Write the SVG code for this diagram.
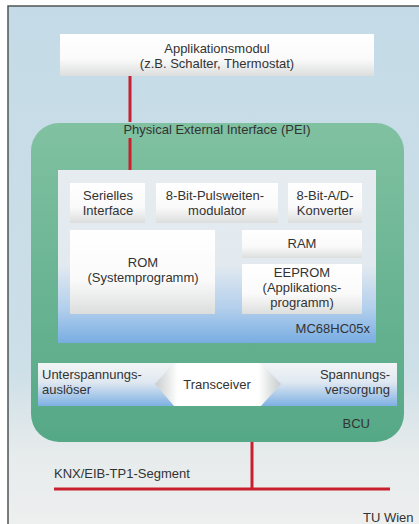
<svg xmlns="http://www.w3.org/2000/svg" width="419" height="524" viewBox="0 0 419 524">
<defs>
<linearGradient id="bg" x1="0" y1="0" x2="0" y2="1">
<stop offset="0" stop-color="#c4dbe7"/>
<stop offset="0.7" stop-color="#cddfe7"/>
<stop offset="0.86" stop-color="#e6ebec"/>
<stop offset="1" stop-color="#eeefef"/>
</linearGradient>
<linearGradient id="green" x1="0" y1="0" x2="0" y2="1">
<stop offset="0" stop-color="#80c1a1"/>
<stop offset="1" stop-color="#55a886"/>
</linearGradient>
<linearGradient id="mcu" x1="0" y1="0" x2="0" y2="1">
<stop offset="0" stop-color="#e6ecef"/>
<stop offset="0.55" stop-color="#e2eaf0"/>
<stop offset="0.8" stop-color="#b3cfec"/>
<stop offset="1" stop-color="#78ade2"/>
</linearGradient>
<linearGradient id="band" x1="0" y1="0" x2="0" y2="1">
<stop offset="0" stop-color="#f2f5f6"/>
<stop offset="0.45" stop-color="#dfe8f1"/>
<stop offset="1" stop-color="#7eb0e3"/>
</linearGradient>
<linearGradient id="box" x1="0" y1="0" x2="0" y2="1">
<stop offset="0" stop-color="#ffffff"/>
<stop offset="0.6" stop-color="#fafafa"/>
<stop offset="1" stop-color="#dcdedd"/>
</linearGradient>
<linearGradient id="hex" x1="0" y1="0" x2="1" y2="0">
<stop offset="0" stop-color="#c8cccc"/>
<stop offset="0.18" stop-color="#ffffff"/>
<stop offset="0.82" stop-color="#ffffff"/>
<stop offset="1" stop-color="#c8cccc"/>
</linearGradient>
</defs>
<style>
text{font-family:"Liberation Sans",Arial,sans-serif;font-size:13px;fill:#333333}
.c{text-anchor:middle}
.r{text-anchor:end}
.red{stroke:#c8202e;stroke-width:3;fill:none}
.box{fill:url(#box)}
</style>
<rect x="0" y="0" width="419" height="524" fill="#ffffff"/>
<rect id="frame" x="8" y="6" width="411" height="518" fill="url(#bg)"/>
<path d="M8,524 V6 H419" fill="none" stroke="#4d5656" stroke-width="1.5"/>

<g id="applikationsmodul">
<rect x="60" y="34" width="314" height="42" class="box"/>
<text x="217" y="53" class="c" font-size="13.5">Applikationsmodul</text>
<text x="217" y="68" class="c" font-size="13.5">(z.B. Schalter, Thermostat)</text>
</g>

<g id="bcu">
<rect x="31" y="123" width="373" height="319" rx="28" ry="28" fill="url(#green)"/>
<text x="217" y="134" class="c" font-size="14" fill="#2e3a33">Physical External Interface (PEI)</text>
<text x="370" y="428" class="r" font-size="14">BCU</text>
</g>

<g id="mc68hc05x">
<rect x="58" y="170" width="318" height="173" fill="url(#mcu)"/>
<text x="370" y="333" class="r" font-size="14">MC68HC05x</text>
</g>

<g id="serielles-interface">
<rect x="70" y="183" width="75" height="40" class="box"/>
<text x="108" y="200" class="c">Serielles</text>
<text x="108" y="215" class="c">Interface</text>
</g>

<g id="pwm">
<rect x="156" y="183" width="122" height="40" class="box"/>
<text x="215" y="200" class="c">8-Bit-Pulsweiten-</text>
<text x="217" y="215" class="c">modulator</text>
</g>

<g id="adc">
<rect x="288" y="183" width="74" height="40" class="box"/>
<text x="325" y="200" class="c">8-Bit-A/D-</text>
<text x="325" y="215" class="c">Konverter</text>
</g>

<g id="rom">
<rect x="70" y="230" width="145" height="84" class="box"/>
<text x="143" y="267" class="c">ROM</text>
<text x="143" y="282" class="c">(Systemprogramm)</text>
</g>

<g id="ram">
<rect x="242" y="230" width="120" height="28" class="box"/>
<text x="302" y="248" class="c">RAM</text>
</g>

<g id="eeprom">
<rect x="242" y="264" width="120" height="50" class="box"/>
<text x="302" y="277" class="c">EEPROM</text>
<text x="302" y="292" class="c">(Applikations-</text>
<text x="302" y="307" class="c">programm)</text>
</g>

<g id="transceiver-band">
<rect x="38" y="363" width="359" height="43" fill="url(#band)"/>
<text x="42" y="379">Unterspannungs-</text>
<text x="42" y="394">auslöser</text>
<text x="390" y="379" class="r">Spannungs-</text>
<text x="390" y="394" class="r">versorgung</text>
</g>

<g id="transceiver">
<polygon points="155,384 174,363 261,363 281,384 261,406 174,406" fill="url(#hex)"/>
<text x="217" y="389" class="c" font-size="14">Transceiver</text>
</g>

<g id="segment">
<text x="54" y="478" font-size="14">KNX/EIB-TP1-Segment</text>
</g>

<g id="connectors">
<line x1="130" y1="76" x2="130" y2="122" class="red"/>
<line x1="130" y1="138" x2="130" y2="170" class="red"/>
<line x1="252" y1="442" x2="252" y2="489" class="red"/>
<line x1="54" y1="489" x2="390" y2="489" class="red"/>
</g>

<text x="363" y="522" font-size="12">TU Wien</text>
</svg>
